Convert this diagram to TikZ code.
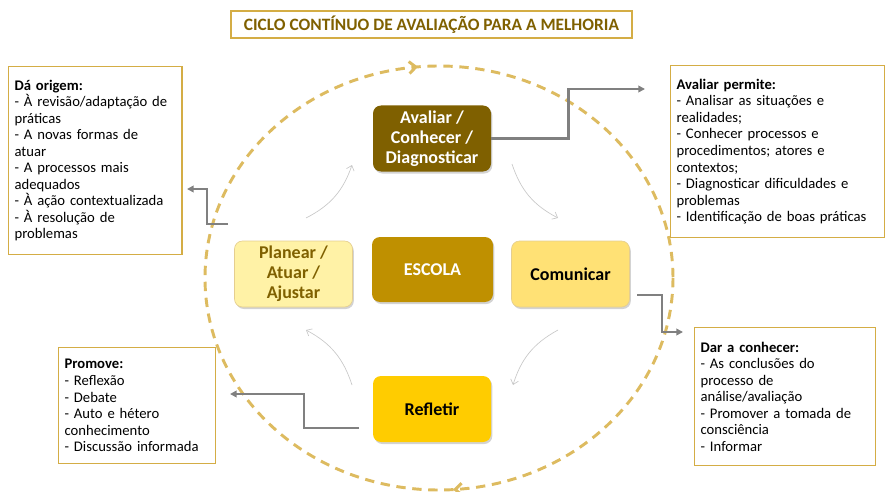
\documentclass[tikz,border=0pt]{standalone}
\usepackage{fontspec}
\setmainfont{Carlito}
\usetikzlibrary{shadows,arrows.meta,decorations.markings}
\definecolor{gold}{HTML}{D4AD45}
\definecolor{dashgold}{HTML}{DDBB60}
\definecolor{darkgold}{HTML}{7F6000}
\definecolor{midgold}{HTML}{BF9000}
\definecolor{lightyel}{HTML}{FFF2A6}
\definecolor{yel}{HTML}{FFE175}
\definecolor{strongyel}{HTML}{FFCC00}
\definecolor{conn}{HTML}{808080}
\definecolor{thinc}{HTML}{C8C8C8}
\begin{document}
\begin{tikzpicture}[x=0.75pt,y=-0.75pt,
  infobox/.style={draw=gold, line width=0.9pt, anchor=north west, align=left, inner xsep=4.5pt, inner ysep=3pt, font=\fontsize{11}{12.4}\selectfont, fill=white},
  stage/.style={rounded corners=6pt, minimum width=88.5pt, minimum height=49.5pt, align=center, font=\bfseries\fontsize{13.5}{15}\selectfont, drop shadow={shadow xshift=1pt, shadow yshift=-1.5pt, opacity=0.35}, inner sep=2pt},
  link/.style={draw=conn, line width=2pt, -{Triangle[length=5pt,width=5pt]}},
  flow/.style={draw=thinc, line width=0.5pt, -{Straight Barb[length=3.5pt,width=6pt]}}]
\useasboundingbox (0,0) rectangle (886,492);

% dashed cycle
\draw[dashgold, line width=2.2pt, dash pattern=on 7pt off 5pt,
  postaction={decorate},
  decoration={markings,
    mark=at position 0.24 with {\arrow{Straight Barb[length=5pt,width=9pt]}},
    mark=at position 0.735 with {\arrow{Straight Barb[length=5pt,width=9pt]}}}]
  (439,278) ellipse [x radius=234, y radius=212];

% title
\node[draw=gold, line width=0.9pt, minimum width=300.75pt, minimum height=20.25pt, text=darkgold, font=\bfseries\fontsize{13}{14}\selectfont] (title) at (431.5,24.5) {CICLO CONTÍNUO DE AVALIAÇÃO PARA A MELHORIA};

% stages
\node[stage, fill=darkgold, text=white] (av) at (432,138.5) {Avaliar /\\Conhecer /\\Diagnosticar};
\node[stage, fill=midgold, text=white, minimum width=90.75pt, minimum height=48.75pt] (esc) at (432.5,269.5) {ESCOLA};
\node[stage, fill=lightyel, draw=gold!60, line width=0.5pt, text=darkgold] (pl) at (293.5,274) {Planear /\\Atuar /\\Ajustar};
\node[stage, fill=yel, draw=gold!60, line width=0.5pt, text=black] (com) at (570.5,274) {Comunicar};
\node[stage, fill=strongyel, text=black] (ref) at (432,409) {Refletir};

% info boxes
\node[infobox, text width=121pt, minimum height=141pt] (orig) at (8,66) {\textbf{Dá origem:}\\- À revisão/adaptação de\\práticas\\- A novas formas de\\atuar\\- A processos mais\\adequados\\- À ação contextualizada\\- À resolução de\\problemas};
\node[infobox, text width=151.5pt, minimum height=129pt] (perm) at (670,65) {\textbf{Avaliar permite:}\\- Analisar as situações e\\realidades;\\- Conhecer processos e\\procedimentos; atores e\\contextos;\\- Diagnosticar dificuldades e\\problemas\\- Identificação de boas práticas};
\node[infobox, text width=108.5pt, minimum height=87pt] (prom) at (58,347) {\textbf{Promove:}\\- Reflexão\\- Debate\\- Auto e hétero\\conhecimento\\- Discussão informada};
\node[infobox, text width=126.5pt, minimum height=103.5pt] (dar) at (694,327) {\textbf{Dar a conhecer:}\\- As conclusões do\\processo de\\análise/avaliação\\- Promover a tomada de\\consciência\\- Informar};

% thin cycle arrows
\coordinate (f1s) at (306,218); \coordinate (f1e) at (352,165);
\coordinate (f2s) at (512,164); \coordinate (f2e) at (558,218);
\coordinate (f3s) at (558,330); \coordinate (f3e) at (513,385);
\coordinate (f4s) at (352,385); \coordinate (f4e) at (306,330);
\draw[flow] (f1s) to[bend right=22] (f1e);
\draw[flow] (f2s) to[bend right=22] (f2e);
\draw[flow] (f3s) to[bend right=22] (f3e);
\draw[flow] (f4s) to[bend right=22] (f4e);

% gray connectors
\coordinate (a1) at (645,89);
\draw[link] (av.east) -- ++(77,0) |- (a1);
\coordinate (b0) at (228,224); \coordinate (b1) at (187,189);
\draw[link] (b0) -- ++(-21,0) |- (b1);
\coordinate (c0) at (637,295); \coordinate (c1) at (683,332);
\draw[link] (c0) -- ++(25,0) |- (c1);
\coordinate (d0) at (359,428); \coordinate (d1) at (230,394);
\draw[link] (d0) -- ++(-55,0) |- (d1);
\end{tikzpicture}
\end{document}
